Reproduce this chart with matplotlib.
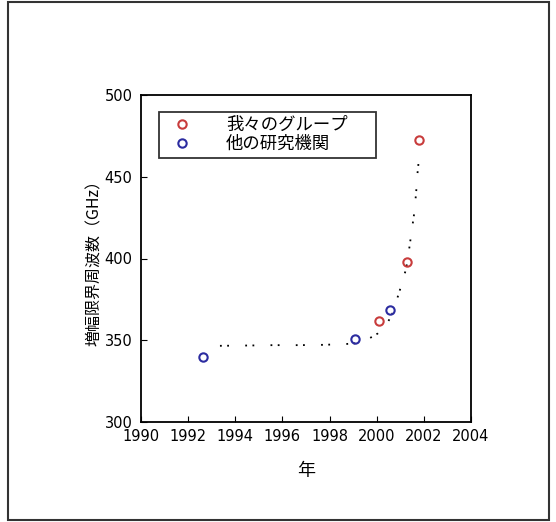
import matplotlib.pyplot as plt
from matplotlib.patches import Rectangle

plt.rcParams['font.family'] = ['DejaVu Sans', 'Noto Sans CJK JP']

# our group (red) and other labs (blue)
our_years = [2000.1, 2001.27, 2001.8]
our_freq = [362, 398, 472.5]
other_years = [1992.62, 1999.08, 2000.56]
other_freq = [340, 350.5, 368.5]

# dotted trend curve
trend_years = [1993.35, 1994.62, 1995.61, 1996.70, 1997.76, 1998.70, 1999.36,
               1999.79, 2000.04, 2000.25, 2000.45, 2000.64, 2000.96, 2001.13,
               2001.25, 2001.35, 2001.45, 2001.59, 2001.67, 2001.73, 2001.80]
trend_freq = [346.6, 346.8, 347.0, 347.0, 347.2, 347.7, 348.4,
              352.0, 354.1, 357.2, 360.6, 365.3, 379.6, 387.8,
              393.9, 403.1, 413.3, 427.6, 439.9, 452.1, 462.3]

xticks = list(range(1990, 2005, 2))
yticks = [300, 350, 400, 450, 500]

W, H = 556, 522
fig = plt.figure(figsize=(W / 100, H / 100), dpi=100)

# outer frame around the whole picture
fig.patches.append(Rectangle((8 / W, 1 - 520 / H), (549 - 8) / W, (520 - 2) / H,
                             transform=fig.transFigure, fill=False,
                             edgecolor='#333333', linewidth=1.5))

ax = fig.add_axes([141 / W, 1 - 422 / H, (471 - 141) / W, (422 - 95) / H])

ax.plot(trend_years, trend_freq, color='black', linestyle=(0, (1, 3, 1, 9)),
        linewidth=1.3)
ax.plot(our_years, our_freq, 'o', mfc='none', mec='#c83c3c', mew=1.5, ms=6,
        label='我々のグループ')
ax.plot(other_years, other_freq, 'o', mfc='none', mec='#2c2ca0', mew=1.5, ms=6,
        label='他の研究機関')

ax.set_xlim(1990, 2004)
ax.set_ylim(300, 500)
ax.set_xticks(xticks)
ax.set_yticks(yticks)
ax.tick_params(direction='in', length=4, labelsize=10.5)
ax.tick_params(axis='x', pad=5)
ax.tick_params(axis='y', pad=6)
for s in ax.spines.values():
    s.set_linewidth(1.3)

ax.set_xlabel('年', fontsize=13, family=['Noto Sans CJK JP'], labelpad=13)
ax.set_ylabel('増幅限界周波数（GHz）', fontsize=11.5,
              family=['Noto Sans CJK JP'], labelpad=1)

lh = 48 / 327
leg = ax.legend(loc='upper left',
                bbox_to_anchor=(18 / 330, 1 - 17 / 327 - lh, 217 / 330, lh),
                mode='expand', borderaxespad=0,
                prop={'family': ['Noto Sans CJK JP'], 'size': 12.5},
                frameon=True, fancybox=False, edgecolor='black',
                handletextpad=1.4, borderpad=0.25, labelspacing=0.05,
                handlelength=2.2)
leg.get_frame().set_linewidth(1.3)

fig.savefig('out.png', dpi=100)
